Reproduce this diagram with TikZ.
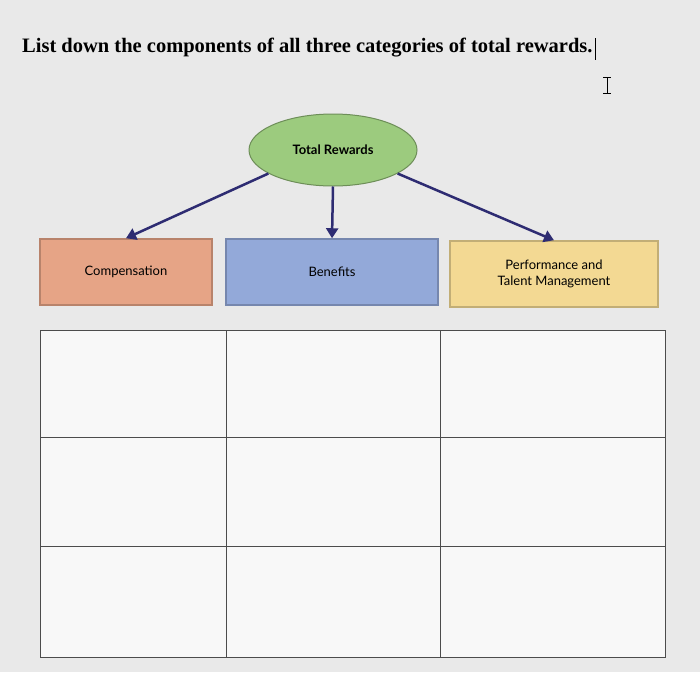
\documentclass[tikz,border=0pt]{standalone}
\usepackage{fontspec}
\setmainfont{Liberation Serif}
\newfontfamily\boxfont{Lato}
\usetikzlibrary{shapes.geometric,arrows.meta}
\definecolor{bg}{HTML}{E9E9E9}
\definecolor{navy}{HTML}{2E2C72}
\definecolor{orng}{HTML}{E6A486}
\definecolor{blu}{HTML}{93A9D9}
\definecolor{yel}{HTML}{F3D993}
\definecolor{grn}{HTML}{9CCB7E}
\tikzset{
  catbox/.style={draw=#1!80!black, line width=1.5pt, fill=#1, minimum height=66pt, inner sep=0pt, font=\boxfont\fontsize{13}{16}\selectfont, align=center},
  link/.style={navy, line width=2.5pt, -{Triangle[length=10pt,width=12pt]}},
  grid/.style={draw=black!70, line width=0.8pt}
}
\begin{document}
\begin{tikzpicture}[x=1pt,y=-1pt]
\useasboundingbox[fill=bg] (0,0) rectangle (700,672);
\node[anchor=base west, font=\bfseries\fontsize{20.5}{24}\selectfont, inner sep=0] (title) at (22,52) {List down the components of all three categories of total rewards.};
\draw[line width=1pt] (title.north east) ++(3pt,-1pt) coordinate (c1) -- ++(0,22) coordinate (c2);
\draw[line width=0.8pt] (603,77) -- (611,77) (607,77) -- (607,93) (603,93) -- (611,93);
\node[ellipse, draw=grn!70!black, line width=1pt, fill=grn, minimum width=168pt, minimum height=72pt, font=\boxfont\bfseries\fontsize{13}{16}\selectfont] (tr) at (333,150) {Total Rewards};
\node[catbox=orng, minimum width=172pt] (comp) at (126,272) {Compensation};
\node[catbox=blu, minimum width=212pt] (ben) at (332,272) {Benefits};
\node[catbox=yel, minimum width=208pt] (perf) at (554,274) {Performance and\\Talent Management};
\draw[link] (tr.200) -- (comp.north);
\draw[link] (tr.south) -- (ben.north);
\draw[link] (tr.340) -- (perf.north);
\fill[white!70!bg] (40,330) rectangle (665,657);
\draw[grid] (40,330) rectangle (665,657);
\draw[grid] (226,330) -- (226,657) (440,330) -- (440,657);
\draw[grid] (40,437) -- (665,437) (40,546) -- (665,546);
\end{tikzpicture}
\end{document}
